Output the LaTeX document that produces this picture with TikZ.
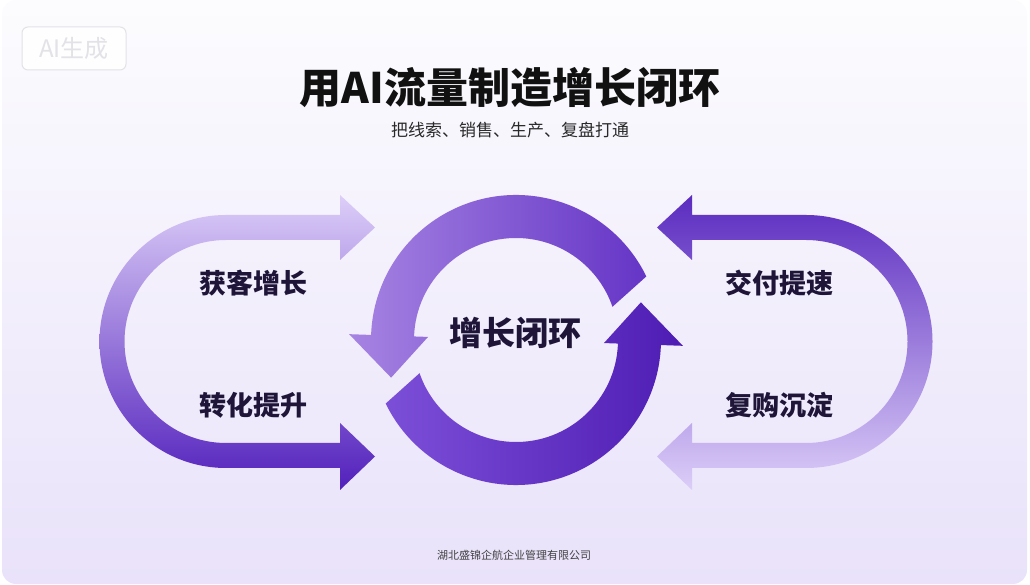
\documentclass[tikz,border=0pt]{standalone}
\usepackage{fontspec}
\setmainfont{Noto Sans CJK SC}
\usepackage{xcolor}
\usetikzlibrary{calc}
\definecolor{bgtop}{HTML}{FCFCFE}
\definecolor{bgbot}{HTML}{E9E2FA}
\definecolor{ink}{HTML}{111111}
\definecolor{label}{HTML}{1E1538}
\definecolor{soft}{HTML}{DCCEF8}
\definecolor{mid}{HTML}{A080E0}
\definecolor{deep}{HTML}{5220BC}
\definecolor{ringA}{HTML}{A684E2}
\definecolor{ringB}{HTML}{6535C6}
\definecolor{ringC}{HTML}{7C4FD8}
\definecolor{ringD}{HTML}{4E1CB3}
\definecolor{wmline}{HTML}{E2E2E7}
\tikzset{
  title/.style={text=ink, font=\fontsize{42}{46}\selectfont\bfseries},
  sub/.style={text=ink!90, font=\fontsize{17}{20}\selectfont},
  lab/.style={text=label, font=\fontsize{27}{31}\selectfont\bfseries},
  core/.style={text=label, font=\fontsize{33}{37}\selectfont\bfseries},
  foot/.style={text=ink!80, font=\fontsize{11}{13}\selectfont},
  wm/.style={draw=wmline, line width=1pt, rounded corners=6pt, fill=white!60!bgtop,
    text=wmline, minimum width=104pt, minimum height=43pt, font=\fontsize{24}{27}\selectfont},
}

\begin{document}
\begin{tikzpicture}[x=1pt,y=1pt]
  \useasboundingbox (0,0) rectangle (1030,585);
  \shade[top color=bgtop, bottom color=bgbot, rounded corners=14pt] (2,1) rectangle (1027,585);

  \coordinate (C) at (516,245);
  \coordinate (L) at (226,243.5);
  \coordinate (R) at (806,243.5);

  % left hook, light at the top, dark at the bottom
  \shade[top color=soft, middle color=mid, bottom color=deep]
    (340,370) -- (226,370) arc[start angle=90, end angle=270, radius=126.5]
    -- (340,117) -- (340,95) -- (375,128.5) -- (340,162) -- (340,142)
    -- (226,142) arc[start angle=270, end angle=90, radius=101.5]
    -- (340,345) -- (340,325) -- (375,357.5) -- (340,390) -- cycle;

  % right hook, mirrored
  \shade[top color=deep!95!white, middle color=mid, bottom color=soft]
    (692,370) -- (806,370) arc[start angle=90, end angle=-90, radius=126.5]
    -- (692,117) -- (692,95) -- (657,128.5) -- (692,162) -- (692,142)
    -- (806,142) arc[start angle=-90, end angle=90, radius=101.5]
    -- (692,345) -- (692,325) -- (657,357.5) -- (692,390) -- cycle;

  % ring, upper half
  \shade[left color=ringA, right color=ringB]
    ($(C)+(26:145)$) arc[start angle=26, end angle=178, radius=145]
    -- ($(C)+(178:167)$) -- ($(C)+(178:123.5)+(268:42)$) -- ($(C)+(178:88)$)
    -- ($(C)+(178:102)$) arc[start angle=178, end angle=19, radius=102] -- cycle;

  % ring, lower half
  \shade[left color=ringC, right color=ringD]
    ($(C)+(206:145)$) arc[start angle=206, end angle=358, radius=145]
    -- ($(C)+(358:167)$) -- ($(C)+(358:123.5)+(88:42)$) -- ($(C)+(358:88)$)
    -- ($(C)+(358:102)$) arc[start angle=358, end angle=199, radius=102] -- cycle;

  \node[wm] (mark) at (74,536.5) {AI生成};
  \node[title] (head) at (510,497) {用AI流量制造增长闭环};
  \node[sub] (tagline) at (510,455) {把线索、销售、生产、复盘打通};

  \node[core] (loop) at (515,252) {增长闭环};
  \node[lab] (gain) at (253,302) {获客增长};
  \node[lab] (conv) at (253,180) {转化提升};
  \node[lab] (fast) at (779,302) {交付提速};
  \node[lab] (keep) at (779,180) {复购沉淀};

  \node[foot] (firm) at (514,30) {湖北盛锦企航企业管理有限公司};
\end{tikzpicture}
\end{document}
